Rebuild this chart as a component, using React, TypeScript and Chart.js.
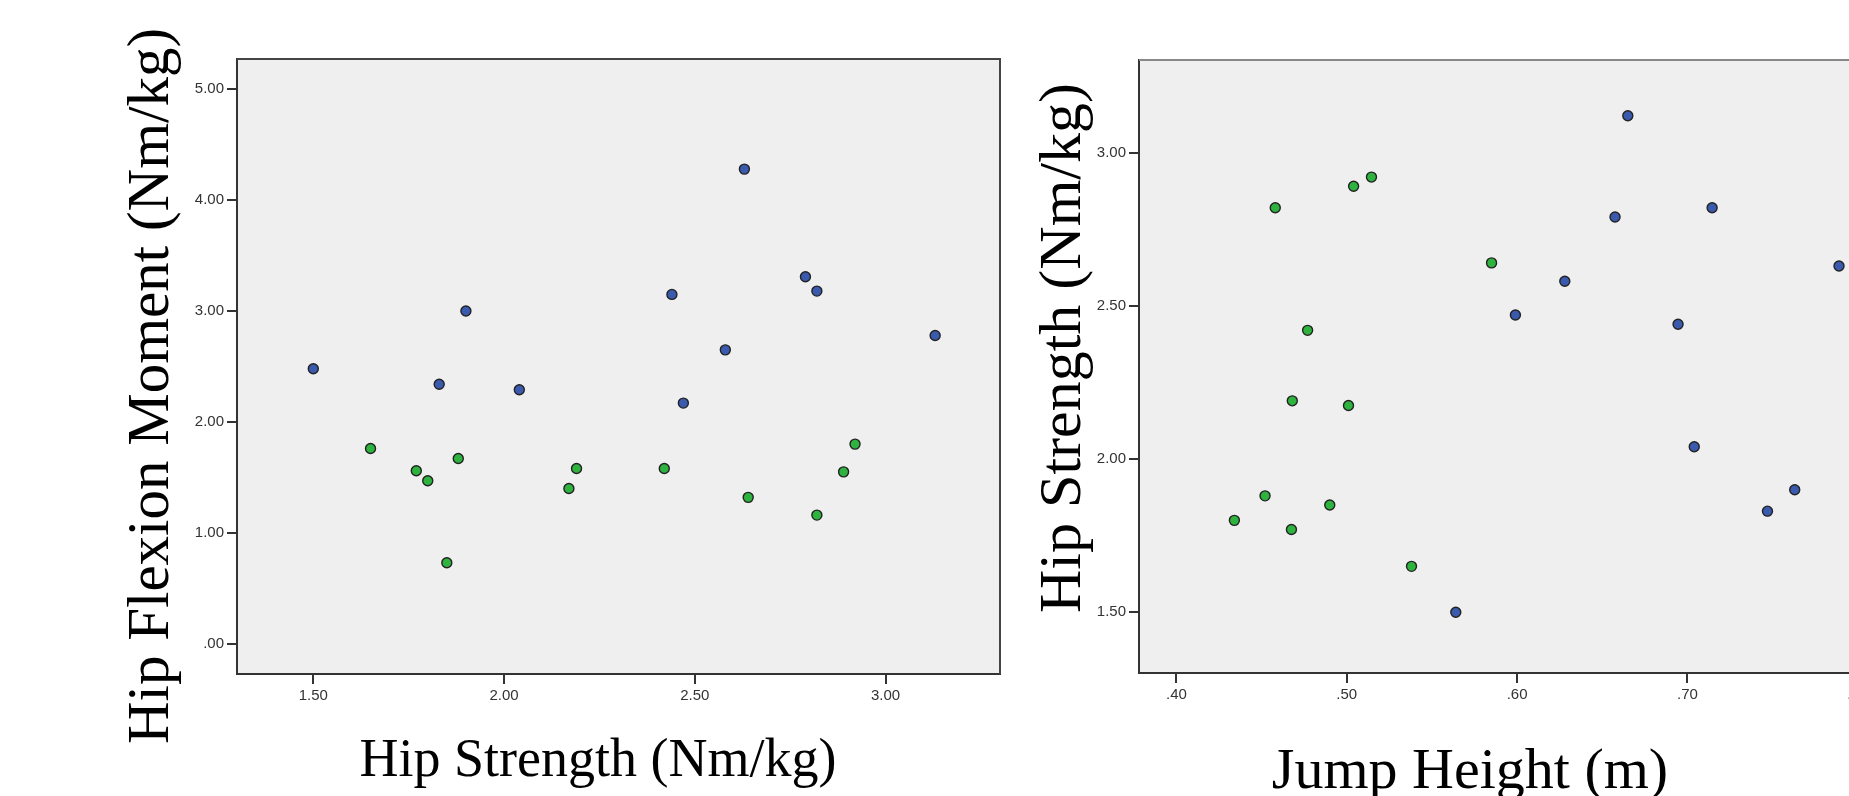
import React, { useEffect, useRef } from "react";
import { Chart, registerables } from "chart.js";

Chart.register(...registerables);

// ---- Left panel: Hip Strength (x) vs Hip Flexion Moment (y)
const leftGreenStrength = [1.65, 1.77, 1.80, 1.85, 1.88, 2.17, 2.19, 2.42, 2.64, 2.82, 2.89, 2.92];
const leftGreenMoment = [1.76, 1.56, 1.47, 0.73, 1.67, 1.40, 1.58, 1.58, 1.32, 1.16, 1.55, 1.80];
const leftBlueStrength = [1.50, 1.83, 1.90, 2.04, 2.44, 2.47, 2.58, 2.63, 2.79, 2.82, 3.13];
const leftBlueMoment = [2.48, 2.34, 3.00, 2.29, 3.15, 2.17, 2.65, 4.28, 3.31, 3.18, 2.78];

const leftXTicks = [1.5, 2.0, 2.5, 3.0];
const leftXTickLabels = ["1.50", "2.00", "2.50", "3.00"];
const leftYTicks = [0, 1, 2, 3, 4, 5];
const leftYTickLabels = [".00", "1.00", "2.00", "3.00", "4.00", "5.00"];
const leftXRange = [1.30, 3.30];
const leftYRange = [-0.273, 5.273];

// ---- Right panel: Jump Height (x) vs Hip Strength (y)
const rightGreenJump = [0.434, 0.452, 0.458, 0.4675, 0.468, 0.477, 0.490, 0.501, 0.504, 0.5145, 0.538, 0.585];
const rightGreenStrength = [1.80, 1.88, 2.82, 1.77, 2.19, 2.42, 1.85, 2.175, 2.89, 2.92, 1.65, 2.64];
const rightBlueJump = [0.564, 0.599, 0.628, 0.6575, 0.665, 0.6945, 0.704, 0.7145, 0.747, 0.763, 0.789];
const rightBlueStrength = [1.50, 2.47, 2.58, 2.79, 3.12, 2.44, 2.04, 2.82, 1.83, 1.90, 2.63];

const rightXTicks = [0.4, 0.5, 0.6, 0.7, 0.8];
const rightXTickLabels = [".40", ".50", ".60", ".70", ".80"];
const rightYTicks = [1.5, 2.0, 2.5, 3.0];
const rightYTickLabels = ["1.50", "2.00", "2.50", "3.00"];
const rightXRange = [0.378, 0.88];
const rightYRange = [1.302, 3.302];

const GREEN = "#2fb33f";
const BLUE = "#3a5aae";
const SERIF = "'Liberation Serif', 'Times New Roman', serif";
const SANS = "'Liberation Sans', Arial, sans-serif";

const toPoints = (xs: number[], ys: number[]) => xs.map((x, i) => ({ x, y: ys[i] }));

const framePlugin = {
  id: "frame",
  beforeDraw(chart: any, _args: any, opts: any) {
    const { ctx, chartArea: a } = chart;
    ctx.save();
    ctx.fillStyle = opts.bg;
    ctx.fillRect(a.left, a.top, a.right - a.left, a.bottom - a.top);
    ctx.restore();
  },
  afterDraw(chart: any, _args: any, opts: any) {
    const { ctx, chartArea: a } = chart;
    ctx.save();
    ctx.strokeStyle = opts.frameColor;
    ctx.lineWidth = 2;
    ctx.beginPath();
    ctx.moveTo(a.left, a.top);
    ctx.lineTo(a.right, a.top);
    ctx.lineTo(a.right, a.bottom);
    ctx.stroke();
    ctx.restore();
    for (const t of opts.titles || []) {
      ctx.save();
      ctx.fillStyle = "#000";
      ctx.font = `${t.size}px ${SERIF}`;
      ctx.textAlign = "center";
      ctx.textBaseline = "alphabetic";
      ctx.translate(t.x, t.y);
      if (t.rotate) ctx.rotate(-Math.PI / 2);
      ctx.fillText(t.text, 0, 0);
      ctx.restore();
    }
  },
};

function makeConfig(p: any) {
  const pointStyle = (color: string) => ({
    backgroundColor: color,
    borderColor: "#222",
    borderWidth: 1.4,
    pointRadius: 5,
    pointHoverRadius: 5,
    showLine: false,
  });
  const axisCommon = (ticksVals: number[], labels: string[], range: number[]) => ({
    type: "linear",
    min: range[0],
    max: range[1],
    afterBuildTicks: (scale: any) => {
      scale.ticks = ticksVals.map((v) => ({ value: v }));
    },
    ticks: {
      autoSkip: false,
      padding: 3,
      color: "#333",
      font: { family: SANS, size: 15 },
      callback: (_v: any, i: number) => labels[i],
    },
    grid: {
      display: true,
      drawOnChartArea: false,
      drawTicks: true,
      tickLength: 10,
      color: "#333",
      lineWidth: 2,
    },
    border: { display: true, color: "#333", width: 2 },
    title: { display: false },
  });
  return {
    type: "scatter",
    data: {
      datasets: [
        { label: "Group 1", data: p.green, ...pointStyle(GREEN) },
        { label: "Group 2", data: p.blue, ...pointStyle(BLUE) },
      ],
    },
    options: {
      responsive: false,
      animation: false,
      devicePixelRatio: 1,
      layout: { padding: p.padding },
      plugins: {
        legend: { display: false },
        tooltip: { enabled: false },
        frame: { bg: "#efefef", frameColor: p.frameColor, titles: p.titles },
      },
      scales: {
        x: {
          ...axisCommon(p.xTicks, p.xLabels, p.xRange),
          position: "bottom",
          afterFit: (s: any) => {
            s.height = p.xAxisHeight;
          },
        },
        y: {
          ...axisCommon(p.yTicks, p.yLabels, p.yRange),
          position: "left",
          afterFit: (s: any) => {
            s.width = p.yAxisWidth;
          },
        },
      },
    },
    plugins: [framePlugin],
  } as any;
}

export default function App() {
  const leftRef = useRef<HTMLCanvasElement>(null);
  const rightRef = useRef<HTMLCanvasElement>(null);

  useEffect(() => {
    const left = new Chart(
      leftRef.current as HTMLCanvasElement,
      makeConfig({
        green: toPoints(leftGreenStrength, leftGreenMoment),
        blue: toPoints(leftBlueStrength, leftBlueMoment),
        xTicks: leftXTicks,
        xLabels: leftXTickLabels,
        yTicks: leftYTicks,
        yLabels: leftYTickLabels,
        xRange: leftXRange,
        yRange: leftYRange,
        padding: { left: 0, top: 59, right: 10, bottom: 0 },
        yAxisWidth: 237,
        xAxisHeight: 122,
        frameColor: "#444",
        titles: [
          { text: "Hip Flexion Moment (Nm/kg)", x: 168, y: 386, rotate: true, size: 59 },
          { text: "Hip Strength (Nm/kg)", x: 598, y: 776, rotate: false, size: 54 },
        ],
      })
    );
    const right = new Chart(
      rightRef.current as HTMLCanvasElement,
      makeConfig({
        green: toPoints(rightGreenJump, rightGreenStrength),
        blue: toPoints(rightBlueJump, rightBlueStrength),
        xTicks: rightXTicks,
        xLabels: rightXTickLabels,
        yTicks: rightYTicks,
        yLabels: rightYTickLabels,
        xRange: rightXRange,
        yRange: rightYRange,
        padding: { left: 0, top: 60, right: 10, bottom: 0 },
        yAxisWidth: 129,
        xAxisHeight: 123,
        frameColor: "#888",
        titles: [
          { text: "Hip Strength (Nm/kg)", x: 70, y: 348, rotate: true, size: 60 },
          { text: "Jump Height (m)", x: 460, y: 788, rotate: false, size: 58 },
        ],
      })
    );
    return () => {
      left.destroy();
      right.destroy();
    };
  }, []);

  return (
    <div
      style={{
        position: "fixed",
        left: 0,
        top: 0,
        width: 1849,
        height: 796,
        overflow: "hidden",
        background: "#fff",
      }}
    >
      <canvas
        ref={leftRef}
        width={1010}
        height={796}
        style={{ position: "absolute", left: 0, top: 0, width: 1010, height: 796 }}
      />
      <canvas
        ref={rightRef}
        width={994}
        height={796}
        style={{ position: "absolute", left: 1010, top: 0, width: 994, height: 796 }}
      />
    </div>
  );
}
